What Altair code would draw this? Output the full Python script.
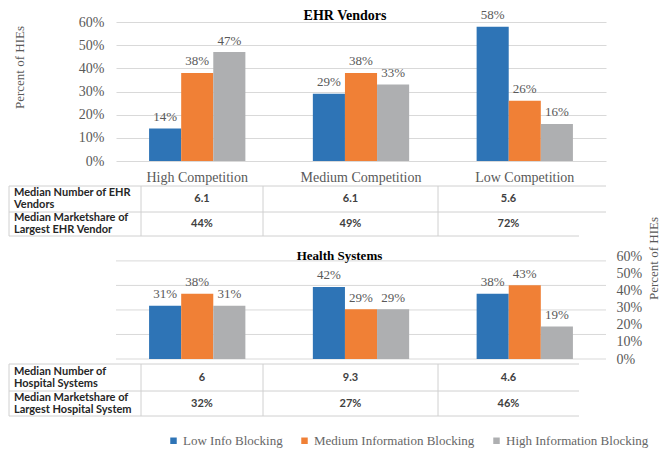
import altair as alt
import pandas as pd

# ---------------- data ----------------
categories = ["High Competition", "Medium Competition", "Low Competition"]
series = ["Low Info Blocking", "Medium Information Blocking", "High Information Blocking"]
series_colors = ["#2E74B6", "#F08036", "#AEAFB1"]

# EHR Vendors panel (share of HIEs)
ehr_low = [0.14, 0.29, 0.58]
ehr_medium = [0.38, 0.38, 0.26]
ehr_high = [0.47, 0.33, 0.16]

# Health Systems panel (share of HIEs)
hs_low = [0.31, 0.42, 0.38]
hs_medium = [0.38, 0.29, 0.43]
hs_high = [0.31, 0.29, 0.19]

percent_ticks = [0.0, 0.1, 0.2, 0.3, 0.4, 0.5, 0.6]
hs_grid_ticks = [0.0, 0.1, 0.2, 0.3, 0.4]

ehr_row_labels = ["Median Number of EHR\nVendors", "Median Marketshare of\nLargest EHR Vendor"]
ehr_vendor_counts = ["6.1", "6.1", "5.6"]
ehr_vendor_share = ["44%", "49%", "72%"]

hs_row_labels = ["Median Number of\nHospital Systems", "Median Marketshare of\nLargest Hospital System"]
hs_system_counts = ["6", "9.3", "4.6"]
hs_system_share = ["32%", "27%", "46%"]

# ---------------- layout / style ----------------
W = 490
TOP_H = 139
TABLE1_H = 95
MID_H = 103
TABLE2_H = 57
COL_EDGES = [-107, 25, 147, 322, 463]   # table column borders, px from plot left

SERIF = "Liberation Serif"
SANS = "Lato"
GRAY = "#595959"
GRID = "#d9d9d9"
LINE = "#d0d0d0"


def long_df(low, med, high):
    rows = []
    for i, c in enumerate(categories):
        for s, vals in zip(series, [low, med, high]):
            rows.append({"cat": c, "ser": s, "val": vals[i]})
    return pd.DataFrame(rows)


def x_enc(axis):
    return alt.X("cat:N", sort=categories, title=None,
                 scale=alt.Scale(paddingInner=0.412, paddingOuter=0.202), axis=axis)


xoff = alt.XOffset("ser:N", sort=series, scale=alt.Scale(paddingInner=0, paddingOuter=0))


def color_enc(legend):
    return alt.Color("ser:N", sort=series, title=None,
                     scale=alt.Scale(domain=series, range=series_colors), legend=legend)


def bar_layers(df, y, legend, xaxis):
    bars = alt.Chart(df).mark_bar().encode(x=x_enc(xaxis), xOffset=xoff, y=y, color=color_enc(legend))
    labels = alt.Chart(df).mark_text(baseline="alphabetic", dy=-7.5, font=SERIF, fontSize=13,
                                     color=GRAY).encode(
        x=x_enc(xaxis), xOffset=xoff, y=y, text=alt.Text("val:Q", format=".0%"))
    return bars, labels


# ---------------- panel A: EHR vendors ----------------
yA = alt.Y("val:Q", title="Percent of HIEs",
           scale=alt.Scale(domain=[0, 0.6], nice=False, zero=True),
           axis=alt.Axis(values=percent_ticks, format=".0%", grid=True, gridColor=GRID, domain=False,
                         ticks=False, labelPadding=12, labelFont=SERIF, labelFontSize=14, labelColor=GRAY,
                         labelOverlap=False, titleFont=SERIF, titleFontSize=13, titleFontWeight="normal",
                         titleColor=GRAY, titleAngle=270, titleX=-97, titleY=45, titleAlign="center",
                         titleBaseline="middle"))
xaxisA = alt.Axis(domain=False, ticks=False, labelPadding=9, labelFont=SERIF, labelFontSize=14,
                  labelColor=GRAY, labelAngle=0)
barsA, labelsA = bar_layers(long_df(ehr_low, ehr_medium, ehr_high), yA, None, xaxisA)
panelA = alt.layer(barsA, labelsA).properties(
    width=W, height=TOP_H,
    title=alt.TitleParams("EHR Vendors", font=SERIF, fontSize=14, fontWeight="bold", color="#000000",
                          anchor="middle", frame="group", offset=0, dx=-16, dy=25, baseline="alphabetic"))


# ---------------- tables ----------------
def table_panel(row_labels, row_values, height, line_ys, center_ys, right_ends):
    hl = pd.DataFrame({"x": [COL_EDGES[0]] * len(line_ys), "x2": right_ends, "y": line_ys})
    vl = pd.DataFrame({"x": COL_EDGES[:-1], "y": [line_ys[0]] * 4, "y2": [line_ys[-1]] * 4})
    lab = pd.DataFrame({"x": [COL_EDGES[0] + 5] * len(row_labels), "y": center_ys, "t": row_labels})
    cells = []
    for r, vals_row in enumerate(row_values):
        for j, v in enumerate(vals_row):
            cells.append({"x": (COL_EDGES[j + 1] + COL_EDGES[j + 2]) / 2, "y": center_ys[r], "t": v})
    xs = alt.Scale(domain=[0, W], nice=False, zero=False)
    ys = alt.Scale(domain=[0, height], reverse=True, nice=False, zero=False)
    X = alt.X("x:Q", scale=xs, axis=None)
    Y = alt.Y("y:Q", scale=ys, axis=None)
    h = alt.Chart(hl).mark_rule(color=LINE, strokeWidth=1).encode(x=X, x2=alt.X2("x2"), y=Y)
    v = alt.Chart(vl).mark_rule(color=LINE, strokeWidth=1).encode(x=X, y=Y, y2=alt.Y2("y2"))
    t1 = alt.Chart(lab).mark_text(align="left", baseline="middle", dy=-6, font=SANS, fontSize=11,
                                  fontWeight="bold", color="#262626", lineBreak="\n",
                                  lineHeight=12).encode(x=X, y=Y, text="t:N")
    t2 = alt.Chart(pd.DataFrame(cells)).mark_text(align="center", baseline="middle", font=SANS,
                                                  fontSize=11, fontWeight="bold",
                                                  color="#404040").encode(x=X, y=Y, text="t:N")
    return alt.layer(h, v, t1, t2).properties(width=W, height=height)


panelB = table_panel(ehr_row_labels, [ehr_vendor_counts, ehr_vendor_share], TABLE1_H,
                     [25, 51, 75], [38, 63], [490, 490, 463])

# ---------------- panel C: health systems ----------------
grid_df = pd.DataFrame({"g": hs_grid_ticks})
gridC = alt.Chart(grid_df).mark_rule(color=GRID, strokeWidth=1).encode(
    y=alt.Y("g:Q", scale=alt.Scale(domain=[0, 0.42], nice=False, zero=True), axis=None))
yC = alt.Y("val:Q", title="Percent of HIEs",
           scale=alt.Scale(domain=[0, 0.6], nice=False, zero=True),
           axis=alt.Axis(orient="right", values=percent_ticks, format=".0%", grid=False, domain=False,
                         ticks=False, labelPadding=10, labelFont=SERIF, labelFontSize=14, labelColor=GRAY,
                         labelOverlap=False, titleFont=SERIF, titleFontSize=13, titleFontWeight="normal",
                         titleColor=GRAY, titleAngle=270, titleX=47, titleY=2, titleAlign="center",
                         titleBaseline="middle"))
legendC = alt.Legend(orient="none", legendX=51, legendY=178, direction="horizontal",
                     symbolType="square", symbolSize=42, symbolStrokeWidth=0, labelFont=SERIF,
                     labelFontSize=13, labelColor="#666666", labelLimit=400, columnPadding=15,
                     labelOffset=3, padding=0)
barsC, labelsC = bar_layers(long_df(hs_low, hs_medium, hs_high), yC, legendC, None)
panelC = alt.layer(gridC, alt.layer(barsC, labelsC)).resolve_scale(y="independent").properties(
    width=W, height=MID_H,
    title=alt.TitleParams("Health Systems", font=SERIF, fontSize=13, fontWeight="bold", color="#000000",
                          anchor="middle", frame="group", offset=0, dx=-21.5, dy=57,
                          baseline="alphabetic"))

panelD = table_panel(hs_row_labels, [hs_system_counts, hs_system_share], TABLE2_H,
                     [5, 32, 57], [18.5, 44.5], [463, 463, 463])

chart = alt.vconcat(panelA, panelB, panelC, panelD, spacing=0, bounds="flush").resolve_scale(
    x="independent", y="independent", color="independent").resolve_legend(
    color="independent").properties(padding=0, background="white").configure_view(
    stroke="transparent").configure_legend(labelFont=SERIF, labelFontSize=13, labelColor="#666666",
                                           labelLimit=400)

chart.save("out.html", embed_options={"renderer": "svg", "actions": False})
